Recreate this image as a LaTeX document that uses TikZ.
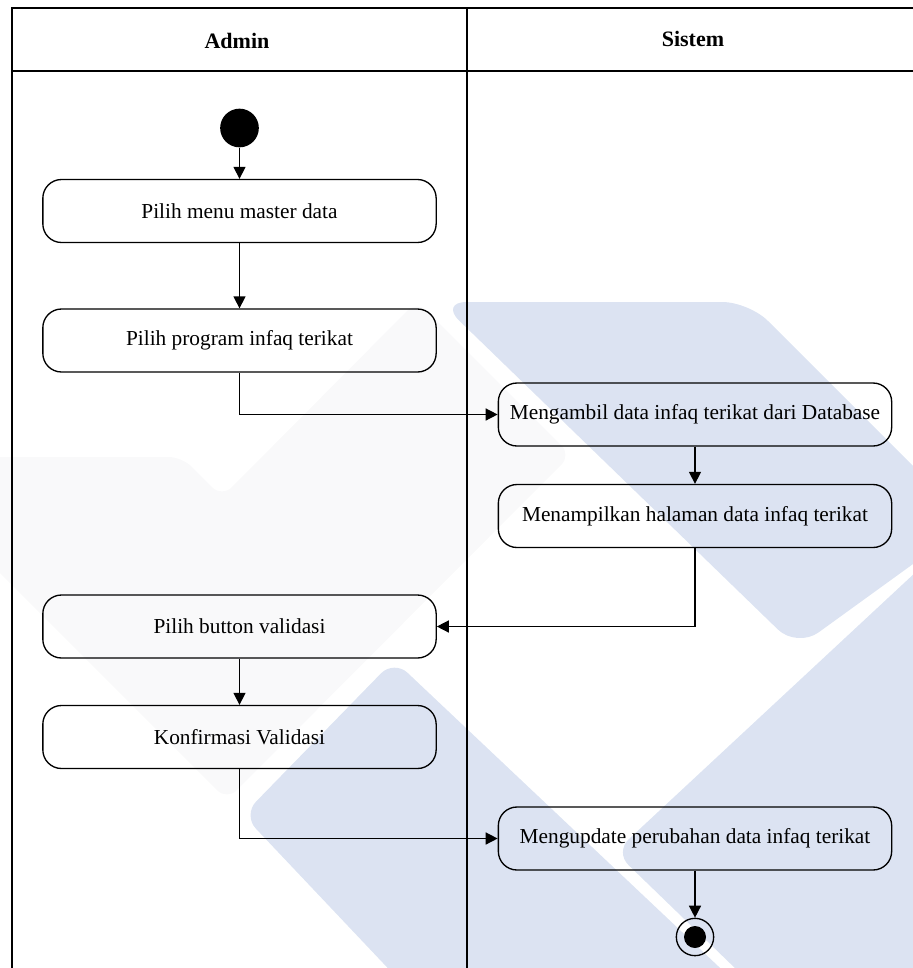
\documentclass[tikz,border=0pt]{standalone}
\usepackage{fontspec}
\setmainfont{Liberation Serif}
\usetikzlibrary{arrows.meta}
\definecolor{wmblue}{RGB}{220,227,242}
\definecolor{wmgray}{RGB}{249,249,250}
\begin{document}
\begin{tikzpicture}[x=0.75pt,y=-0.75pt,
  act/.style={draw, line width=1pt, rounded corners=14pt, minimum width=295pt,
    minimum height=47.25pt, inner sep=2pt, font=\fontsize{16}{19}\selectfont},
  hdr/.style={font=\fontsize{16.5}{20}\selectfont\bfseries},
  arr/.style={line width=1.1pt, -{Triangle[length=9pt,width=9pt]}},
  lane/.style={line width=1.5pt},
  initnode/.style={circle, fill=black, minimum size=29pt, inner sep=0pt},
  finalnode/.style={circle, draw, line width=1pt, minimum size=28pt, inner sep=0pt,
    path picture={\fill[black] (path picture bounding box.center) circle (8.25pt);}}]
\useasboundingbox (0,0) rectangle (913,968);
% watermark
\begin{scope}
\clip (0,0) rectangle (913,968);
\fill[wmgray, rounded corners=10pt] (-20,457) -- (182,457) -- (222,497) -- (417,301) -- (571,455) -- (227,800) -- (-20,553) -- cycle;
\fill[wmblue, rounded corners=20pt] (440,302) -- (749,302) -- (960,513) -- (960,530) -- (797,648) -- cycle;
\fill[wmblue, rounded corners=14pt] (394,660) -- (754,1000) -- (418,1000) -- (243,815) -- cycle;
\fill[wmblue, rounded corners=14pt] (615,852) -- (960,531) -- (960,1000) -- (768,1000) -- cycle;
\end{scope}
% lanes
\draw[lane] (12,968) -- (12,8) -- (913,8);
\draw[lane] (12,71) -- (913,71);
\draw[lane] (467,8) -- (467,968);
\node[hdr] (hA) at (237,41) {Admin};
\node[hdr] (hS) at (693,39) {Sistem};
% nodes
\node[initnode] (start) at (239.5,128) {};
\node[act] (b1) at (239.5,211) {Pilih menu master data};
\node[act] (b2) at (239.5,340.5) {Pilih program infaq terikat};
\node[act] (b3) at (695,414.5) {Mengambil data infaq terikat dari Database};
\node[act] (b4) at (695,516) {Menampilkan halaman data infaq terikat};
\node[act] (b5) at (239.5,626.5) {Pilih button validasi};
\node[act] (b6) at (239.5,737) {Konfirmasi Validasi};
\node[act] (b7) at (695,838.5) {Mengupdate perubahan data infaq terikat};
\node[finalnode] (end) at (695,937) {};
% connectors
\draw[arr] (start) -- (b1);
\draw[arr] (b1) -- (b2);
\draw[arr] (b2.south) |- (b3.west);
\draw[arr] (b3) -- (b4);
\draw[arr] (b4.south) |- (b5.east);
\draw[arr] (b5) -- (b6);
\draw[arr] (b6.south) |- (b7.west);
\draw[arr] (b7) -- (end);
\end{tikzpicture}
\end{document}
